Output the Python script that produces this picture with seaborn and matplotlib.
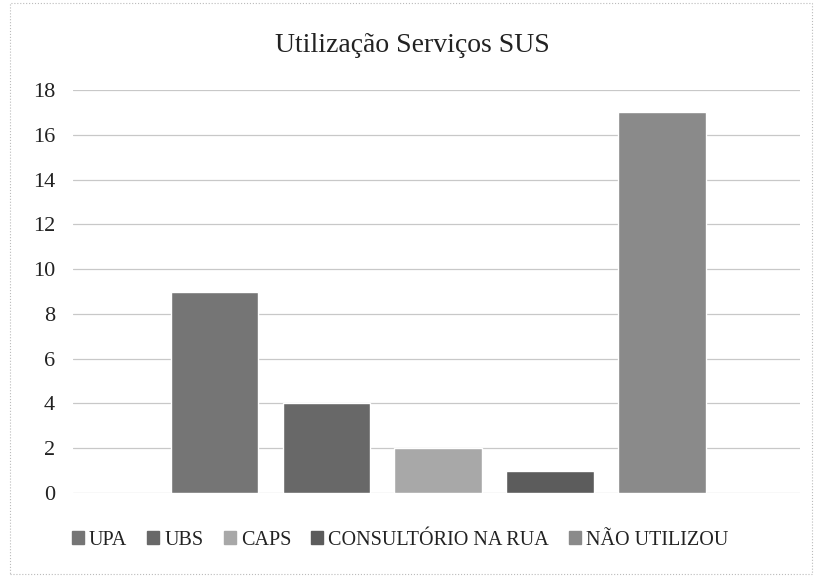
import matplotlib
matplotlib.use("Agg")
import matplotlib.pyplot as plt
import seaborn as sns
import pandas as pd
from matplotlib.patches import Rectangle

categories = ["UPA", "UBS", "CAPS", "CONSULTÓRIO NA RUA", "NÃO UTILIZOU"]
values = [9, 4, 2, 1, 17]
colors = ["#757575", "#686868", "#a8a8a8", "#5c5c5c", "#8a8a8a"]
yticks = [0, 2, 4, 6, 8, 10, 12, 14, 16, 18]

df = pd.DataFrame({"Serviço": categories, "Quantidade": values})

sns.set_theme(style="white")
plt.rcParams["font.family"] = ["Liberation Serif", "DejaVu Serif"]

fig = plt.figure(figsize=(8.22, 5.77), dpi=100)
ax = fig.add_axes([0.089, 0.1456, 0.884, 0.6984])

sns.barplot(data=df, x="Serviço", y="Quantidade", hue="Serviço",
            palette=colors, width=0.78, ax=ax, legend=False, saturation=1)

ax.set_ylim(0, 18)
ax.set_xlim(-1.26, 5.23)
ax.set_yticks(yticks)
ax.set_yticklabels([str(t) for t in yticks], fontsize=16, color="#222222")
ax.set_xticks([])
ax.set_xlabel("")
ax.set_ylabel("")
ax.tick_params(axis="y", length=0, pad=13)
for s in ax.spines.values():
    s.set_visible(False)
ax.yaxis.grid(True, color="#c8c8c8", linewidth=0.9)
ax.set_axisbelow(True)

fig.text(0.502, 0.921, "Utilização Serviços SUS", ha="center", va="center",
         fontsize=20, color="#222222")

handles = [Rectangle((0, 0), 1, 1, color=c) for c in colors]
fig.legend(handles, categories, loc="center", bbox_to_anchor=(0.487, 0.064),
           ncol=5, frameon=False, fontsize=14.5, handlelength=0.6, handleheight=0.6,
           handletextpad=0.25, columnspacing=1.0, labelcolor="#222222")

fig.patches.append(Rectangle((0.012, 0.005), 0.976, 0.99, transform=fig.transFigure,
                             fill=False, edgecolor="#bbbbbb", linewidth=0.8,
                             linestyle=":"))

fig.savefig("out.png", dpi=100)
